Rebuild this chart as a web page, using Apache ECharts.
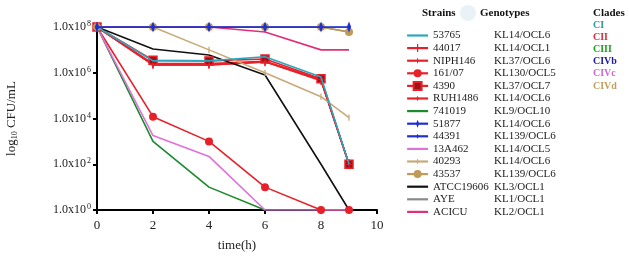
<!DOCTYPE html>
<html>
<head>
<meta charset="utf-8">
<script src="https://cdn.jsdelivr.net/npm/echarts@6/dist/echarts.min.js"></script>
<style>
  html, body { margin: 0; padding: 0; background: #fff; }
  #main { width: 629px; height: 257px; }
</style>
</head>
<body>
<div id="main"></div>
<script>
// time points (h)
var times = [0, 2, 4, 6, 8, 9];
var times741019 = [0, 2, 4, 6];

// CFU/mL
var s53765   = [1e8, 3.3e6, 3.3e6, 5e6,  6.5e5, 100];
var s44017   = [1e8, 2.5e6, 2.5e6, 3.2e6, 5e5,  100];
var sNIPH146 = [1e8, 2.2e6, 2.2e6, 3e6,  4.5e5, 100];
var s16107   = [1e8, 1.2e4, 1e3,   10,   1,     1];
var s4390    = [1e8, 3.5e6, 3.3e6, 4e6,  5.5e5, 100];
var sRUH1486 = [1e8, 2.2e6, 2.2e6, 3e6,  5e5,   100];
var s741019  = [1e8, 1e3,   10,    1];
var s51877   = [1e8, 1e8,   1e8,   1e8,  1e8,   1e8];
var s44391   = [1e8, 1e8,   1e8,   1e8,  1e8,   1e8];
var s13A462  = [1e8, 1.8e3, 2.2e2, 1,    1,     1];
var s40293   = [1e8, 1e8,   1e7,   1e6,  9e4,   1.1e4];
var s43537   = [1e8, 1e8,   1e8,   1e8,  1e8,   6e7];
var sATCC    = [1e8, 1.1e7, 6e6,   8e5,  100,   1];
var sAYE     = [1e8, 1e8,   1e8,   1e8,  1e8,   6e7];
var sACICU   = [1e8, 1e8,   1e8,   6e7,  1e7,   1e7];

var strains   = ['53765', '44017', 'NIPH146', '161/07', '4390', 'RUH1486', '741019', '51877', '44391', '13A462', '40293', '43537', 'ATCC19606', 'AYE', 'ACICU'];
var genotypes = ['KL14/OCL6', 'KL14/OCL1', 'KL37/OCL6', 'KL130/OCL5', 'KL37/OCL7', 'KL14/OCL6', 'KL9/OCL10', 'KL14/OCL6', 'KL139/OCL6', 'KL14/OCL5', 'KL14/OCL6', 'KL139/OCL6', 'KL3/OCL1', 'KL1/OCL1', 'KL2/OCL1'];
var noMarker  = ['53765', '741019', '13A462', 'ATCC19606', 'AYE', 'ACICU'];
var clades = ['CI', 'CII', 'CIII', 'CIVb', 'CIVc', 'CIVd'];
var cladeColors = ['#2a9aa8', '#d83040', '#20a020', '#1a1aa0', '#d068d8', '#c0a060'];

var RED = '#e8202a';

// marks drawn inside a square 0..8 box, so the legend (which squares every symbol) keeps their shape
var CORNERS = 'M0,0 L0.01,0 L0,0.01 Z M8,8 L7.99,8 L8,7.99 Z ';
var TICK = 'path://' + CORNERS + 'M3.4,0 L4.6,0 L4.6,8 L3.4,8 Z';
var SMALL_TICK = 'path://' + CORNERS + 'M3.5,1.5 L4.5,1.5 L4.5,6.5 L3.5,6.5 Z';
var TALL_DIAMOND = 'path://' + CORNERS + 'M4,0 L5.6,4 L4,8 L2.4,4 Z';
var SMALL_DIAMOND = 'path://' + CORNERS + 'M4,1.5 L5.2,4 L4,6.5 L2.8,4 Z';
var STAR = 'path://' + CORNERS + 'M4,1 L4.7,3.3 L7,4 L4.7,4.7 L4,7 L3.3,4.7 L1,4 L3.3,3.3 Z';

function pairs(xs, ys) {
  return ys.map(function (v, i) { return [xs[i], v]; });
}

function mk(name, xs, ys, color, symbol, size, extra) {
  var s = {
    name: name,
    type: 'line',
    data: pairs(xs, ys),
    symbol: symbol,
    symbolSize: size,
    showSymbol: symbol !== 'none',
    lineStyle: { color: color, width: 1.6 },
    itemStyle: { color: color },
    z: 2
  };
  if (extra) Object.assign(s, extra);
  return s;
}

var series = [
  mk('53765', times, s53765, '#2ca6be', 'none', 0, { z: 3 }),
  mk('44017', times, s44017, RED, TICK, 10),
  mk('NIPH146', times, sNIPH146, RED, SMALL_TICK, 10),
  mk('161/07', times, s16107, RED, 'circle', 8),
  mk('4390', times, s4390, RED, 'rect', 8, {
    itemStyle: { color: '#a01018', borderColor: RED, borderWidth: 1.5 }
  }),
  mk('RUH1486', times, sRUH1486, RED, STAR, 9),
  mk('741019', times741019, s741019, '#1a8a2a', 'none', 0),
  mk('51877', times, s51877, '#2030d0', TALL_DIAMOND, 11, { z: 4 }),
  mk('44391', times, s44391, '#2030d0', SMALL_DIAMOND, 10, { z: 4 }),
  mk('13A462', times, s13A462, '#e070dc', 'none', 0),
  mk('40293', times, s40293, '#c8aa78', SMALL_TICK, 10),
  mk('43537', times, s43537, '#c09a58', 'circle', 8),
  mk('ATCC19606', times, sATCC, '#111111', 'none', 0),
  mk('AYE', times, sAYE, '#8a8a8a', 'none', 0, { z: 1 }),
  mk('ACICU', times, sACICU, '#e0307a', 'none', 0)
];

var SERIF = '"Liberation Serif", "DejaVu Serif", serif';

var chart = echarts.init(document.getElementById('main'), null, { renderer: 'canvas' });

var cladeGraphics = [
  { type: 'text', left: 593, top: 8, style: { text: 'Clades', font: 'bold 11px ' + SERIF, fill: '#111' } }
];
clades.forEach(function (c, i) {
  cladeGraphics.push({
    type: 'text', left: 593, top: 20 + i * 12.2,
    style: { text: c, font: 'bold 10px ' + SERIF, fill: cladeColors[i] }
  });
});

chart.setOption({
  animation: false,
  backgroundColor: '#fff',
  grid: { left: 97, right: 252, top: 27, bottom: 46, containLabel: false },
  xAxis: {
    type: 'value',
    min: 0, max: 10, interval: 2,
    name: 'time(h)',
    nameLocation: 'middle',
    nameGap: 29,
    nameTextStyle: { fontFamily: SERIF, fontSize: 13, color: '#222' },
    axisLine: { show: true, lineStyle: { color: '#000', width: 2 } },
    axisTick: { show: true, length: 4, lineStyle: { color: '#000', width: 2 } },
    axisLabel: { fontFamily: SERIF, fontSize: 13, color: '#222', margin: 9 },
    splitLine: { show: false }
  },
  yAxis: {
    type: 'log',
    logBase: 10,
    min: 1, max: 1e8,
    interval: 2,
    name: 'log{sub|10} CFU/mL',
    nameLocation: 'middle',
    nameGap: 78,
    nameRotate: 90,
    nameTextStyle: {
      fontFamily: SERIF, fontSize: 13, color: '#222',
      rich: { sub: { fontFamily: SERIF, fontSize: 8, color: '#222', verticalAlign: 'bottom', padding: [6, 0, 0, 0] } }
    },
    axisLine: { show: true, lineStyle: { color: '#000', width: 2 } },
    axisTick: { show: true, length: 4, lineStyle: { color: '#000', width: 2 } },
    axisLabel: {
      margin: 6,
      formatter: function (v) {
        var e = Math.round(Math.log10(v));
        return '{n|1.0x10}{s|' + e + '}';
      },
      rich: {
        n: { fontFamily: SERIF, fontSize: 12, color: '#222', lineHeight: 14 },
        s: { fontFamily: SERIF, fontSize: 8, color: '#222', verticalAlign: 'top', lineHeight: 14, padding: [0, 0, 6, 1] }
      }
    },
    splitLine: { show: false }
  },
  legend: {
    orient: 'vertical',
    left: 401,
    top: 25,
    itemWidth: 21,
    itemHeight: 10,
    itemGap: 1.6,
    selectedMode: false,
    lineStyle: { width: 2.2 },
    data: strains.map(function (n) {
      // plain-line strains: hide the legend's default marker
      return noMarker.indexOf(n) >= 0 ? { name: n, itemStyle: { opacity: 0 } } : n;
    }),
    formatter: function (name) {
      var i = strains.indexOf(name);
      return '{a|' + name + '}{b|' + genotypes[i] + '}';
    },
    textStyle: {
      rich: {
        a: { fontFamily: SERIF, fontSize: 11, color: '#222', width: 61, lineHeight: 10 },
        b: { fontFamily: SERIF, fontSize: 11, color: '#222', lineHeight: 10 }
      }
    }
  },
  graphic: [
    { type: 'circle', shape: { cx: 468, cy: 13, r: 8 }, style: { fill: '#e9f2f7' } },
    { type: 'text', left: 422, top: 8, style: { text: 'Strains', font: 'bold 11px ' + SERIF, fill: '#111' } },
    { type: 'text', left: 480, top: 8, style: { text: 'Genotypes', font: 'bold 11px ' + SERIF, fill: '#111' } }
  ].concat(cladeGraphics),
  series: series
});
</script>
</body>
</html>
